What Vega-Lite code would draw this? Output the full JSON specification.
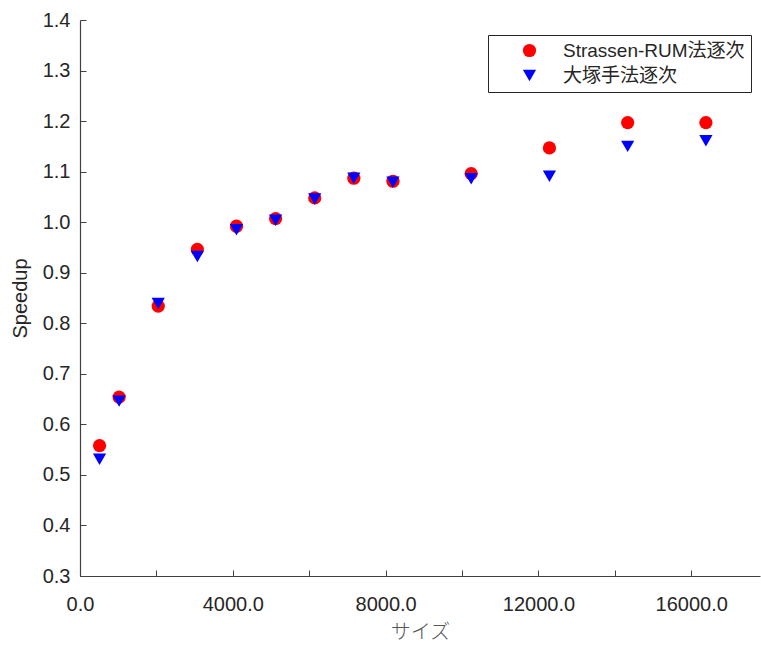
{
  "$schema": "https://vega.github.io/schema/vega-lite/v6.json",
  "autosize": "none",
  "padding": {"left": 80, "top": 20, "right": 1, "bottom": 72},
  "width": 680,
  "height": 556,
  "background": "white",
  "config": {
    "font": "Liberation Sans, Noto Sans CJK JP",
    "view": {"stroke": null},
    "axis": {
      "grid": false,
      "domainColor": "#404040",
      "tickColor": "#404040",
      "labelColor": "#262626",
      "titleColor": "#262626",
      "labelFont": "Liberation Sans",
      "labelFontSize": 20,
      "titleFontSize": 20,
      "titleFontWeight": "normal",
      "tickSize": -6,
      "domainWidth": 1.2
    }
  },
  "data": {
    "values": [
      {"size": 512, "method": "Strassen-RUM法逐次", "speedup": 0.558},
      {"size": 1024, "method": "Strassen-RUM法逐次", "speedup": 0.654},
      {"size": 2048, "method": "Strassen-RUM法逐次", "speedup": 0.834},
      {"size": 3072, "method": "Strassen-RUM法逐次", "speedup": 0.946},
      {"size": 4096, "method": "Strassen-RUM法逐次", "speedup": 0.992},
      {"size": 5120, "method": "Strassen-RUM法逐次", "speedup": 1.007},
      {"size": 6144, "method": "Strassen-RUM法逐次", "speedup": 1.048},
      {"size": 7168, "method": "Strassen-RUM法逐次", "speedup": 1.087},
      {"size": 8192, "method": "Strassen-RUM法逐次", "speedup": 1.081},
      {"size": 10240, "method": "Strassen-RUM法逐次", "speedup": 1.096},
      {"size": 12288, "method": "Strassen-RUM法逐次", "speedup": 1.147},
      {"size": 14336, "method": "Strassen-RUM法逐次", "speedup": 1.197},
      {"size": 16384, "method": "Strassen-RUM法逐次", "speedup": 1.197},
      {"size": 512, "method": "大塚手法逐次", "speedup": 0.531},
      {"size": 1024, "method": "大塚手法逐次", "speedup": 0.646},
      {"size": 2048, "method": "大塚手法逐次", "speedup": 0.839},
      {"size": 3072, "method": "大塚手法逐次", "speedup": 0.932},
      {"size": 4096, "method": "大塚手法逐次", "speedup": 0.985},
      {"size": 5120, "method": "大塚手法逐次", "speedup": 1.004},
      {"size": 6144, "method": "大塚手法逐次", "speedup": 1.046},
      {"size": 7168, "method": "大塚手法逐次", "speedup": 1.087},
      {"size": 8192, "method": "大塚手法逐次", "speedup": 1.079},
      {"size": 10240, "method": "大塚手法逐次", "speedup": 1.086},
      {"size": 12288, "method": "大塚手法逐次", "speedup": 1.091},
      {"size": 14336, "method": "大塚手法逐次", "speedup": 1.150},
      {"size": 16384, "method": "大塚手法逐次", "speedup": 1.161}
    ]
  },
  "mark": {"type": "point", "filled": true, "opacity": 1, "size": 175},
  "encoding": {
    "x": {
      "field": "size",
      "type": "quantitative",
      "title": "サイズ",
      "scale": {"domain": [0, 17800], "nice": false, "zero": false},
      "axis": {
        "values": [0, 2000, 4000, 6000, 8000, 10000, 12000, 14000, 16000],
        "labelExpr": "datum.value % 4000 == 0 ? format(datum.value, '.1f') : ''",
        "labelPadding": 24,
        "labelFlush": false,
        "titleFont": "Noto Sans CJK JP",
        "titleFontSize": 20,
        "titleFontWeight": 300,
        "titleColor": "#555555",
        "titlePadding": 8
      }
    },
    "y": {
      "field": "speedup",
      "type": "quantitative",
      "title": "Speedup",
      "scale": {"domain": [0.3, 1.4], "nice": false, "zero": false},
      "axis": {
        "values": [0.3, 0.4, 0.5, 0.6, 0.7, 0.8, 0.9, 1.0, 1.1, 1.2, 1.3, 1.4],
        "format": ".1f",
        "labelPadding": 16,
        "labelFlush": false,
        "titlePadding": 12
      }
    },
    "color": {
      "field": "method",
      "type": "nominal",
      "scale": {"domain": ["Strassen-RUM法逐次", "大塚手法逐次"], "range": ["#ff0000", "#0000ff"]},
      "legend": {
        "title": null,
        "orient": "none",
        "legendX": 408,
        "legendY": 15,
        "padding": 6,
        "rowPadding": 5,
        "symbolOffset": 26,
        "labelOffset": 24,
        "labelFontSize": 19,
        "labelColor": "#262626",
        "labelFont": "Liberation Sans, Noto Sans CJK JP",
        "symbolSize": 175,
        "strokeColor": "#262626",
        "fillColor": "white",
        "labelLimit": 400
      }
    },
    "shape": {
      "field": "method",
      "type": "nominal",
      "scale": {"domain": ["Strassen-RUM法逐次", "大塚手法逐次"], "range": ["circle", "triangle-down"]},
      "legend": {
        "title": null
      }
    }
  }
}
